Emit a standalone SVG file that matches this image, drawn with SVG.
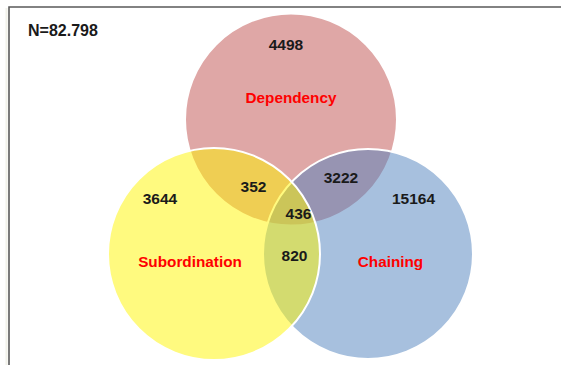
<svg xmlns="http://www.w3.org/2000/svg" width="561" height="365" viewBox="0 0 561 365">
  <style>
    .set { stroke: #ffffff; stroke-width: 2; }
    .num { font-family: "Liberation Sans", Arial, sans-serif; font-weight: bold; font-size: 15.5px; fill: #1a1a1a; text-anchor: middle; }
    .lbl { font-family: "Liberation Sans", Arial, sans-serif; font-weight: bold; font-size: 15.3px; fill: #ff0000; text-anchor: middle; }
  </style>
  <rect x="0" y="0" width="561" height="365" fill="#ffffff"/>
  <g id="frame">
    <path d="M6.5,365 V8" fill="none" stroke="#f2f2ea" stroke-width="2"/>
    <path d="M9,365 V7 H561" fill="none" stroke="#5a5a5a" stroke-width="1.6"/>
  </g>
  <text id="total" class="num" x="28" y="35.5" style="text-anchor:start;font-size:16px">N=82.798</text>
  <g id="dependency">
    <circle class="set" cx="291" cy="119.5" r="106" fill="#c0504d" fill-opacity="0.5"/>
  </g>
  <g id="chaining">
    <circle class="set" cx="368" cy="254" r="105" fill="#4f81bd" fill-opacity="0.5"/>
  </g>
  <g id="subordination">
    <circle class="set" cx="214" cy="254" r="106" fill="#fff500" fill-opacity="0.5"/>
  </g>
  <g id="connectors"></g>
  <g id="labels">
    <text class="lbl" x="291" y="103">Dependency</text>
    <text class="lbl" x="190" y="267">Subordination</text>
    <text class="lbl" x="390.5" y="267">Chaining</text>
  </g>
  <g id="counts">
    <text class="num" x="286" y="50">4498</text>
    <text class="num" x="253.5" y="192">352</text>
    <text class="num" x="341" y="183">3222</text>
    <text class="num" x="160" y="204">3644</text>
    <text class="num" x="413.5" y="204">15164</text>
    <text class="num" x="298.5" y="219">436</text>
    <text class="num" x="294.5" y="261">820</text>
  </g>
</svg>
